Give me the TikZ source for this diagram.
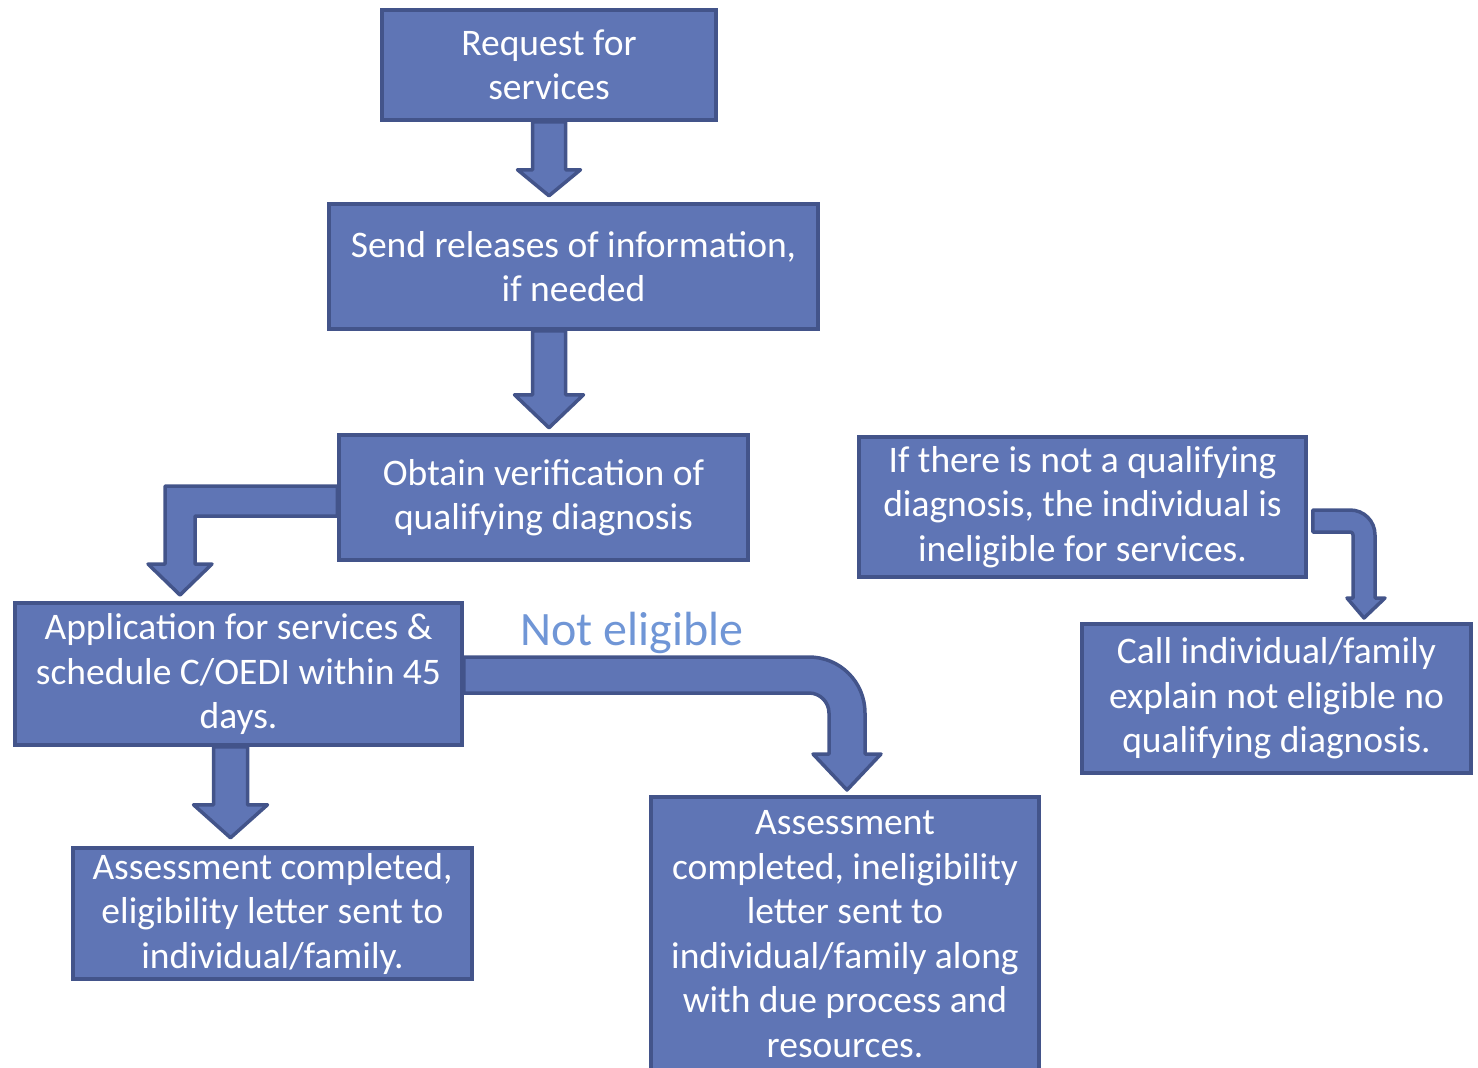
\documentclass[tikz,border=0pt]{standalone}
\usepackage{fontspec}
\setmainfont{Carlito}
\usetikzlibrary{calc}
\definecolor{boxfill}{RGB}{95,117,181}
\definecolor{boxline}{RGB}{67,84,138}
\definecolor{labelblue}{RGB}{112,150,214}

% straight block arrow pointing down: start, shaft length, head length, shaft half width, head half width
\newcommand{\blockdown}[5]{%
  \draw[blockarrow] ($(#1)+(-#4,0)$) -- ++(0,#2) -- ++({#4-#5},0) -- ++(#5,#3)
    -- ++(#5,-#3) -- ++({#4-#5},0) -- ++(0,-#2) -- cycle;}

\begin{document}
\begin{tikzpicture}[x=1pt, y=-1pt,
    stepbox/.style={draw=boxline, fill=boxfill, line width=3.5pt, text=white,
      align=center, inner sep=0pt, font=\fontsize{37.5}{44.5}\selectfont},
    blockarrow/.style={draw=boxline, fill=boxfill, line width=3.5pt, line join=round}]
  \useasboundingbox (0,0) rectangle (1478,1068);

  \node[stepbox, minimum width=334, minimum height=110] (req) at (549,65) {Request for\\services};
  \node[stepbox, minimum width=489, minimum height=125] (rel) at (573.5,266.5) {Send releases of information,\\if needed};
  \node[stepbox, minimum width=409, minimum height=125] (ver) at (543.5,497.5) {Obtain verification of\\qualifying diagnosis};
  \node[stepbox, minimum width=447, minimum height=140] (ifnot) at (1082.5,507) {If there is not a qualifying\\diagnosis, the individual is\\ineligible for services.};
  \node[stepbox, minimum width=447, minimum height=142] (app) at (238.5,674) {Application for services \&\\schedule C/OEDI within 45\\days.};
  \node[stepbox, minimum width=389, minimum height=149] (call) at (1276.5,698.5) {Call individual/family\\explain not eligible no\\qualifying diagnosis.};
  \node[stepbox, minimum width=399, minimum height=131] (elig) at (272.5,913.5) {Assessment completed,\\eligibility letter sent to\\individual/family.};
  \node[stepbox, minimum width=388, minimum height=274] (inel) at (845,934) {Assessment\\completed, ineligibility\\letter sent to\\individual/family along\\with due process and\\resources.};

  \node[text=labelblue, font=\fontsize{48}{56}\selectfont] (noteli) at (632,633) {Not eligible};

  % straight arrows
  \blockdown{req.south}{48}{26}{16.5}{31.5}
  \blockdown{req.south |- rel.south}{64}{33}{16.5}{34.5}
  \coordinate (appout) at ($(app.south)+(-8,0)$);
  \blockdown{appout}{58}{33}{17}{37}

  % bent arrows
  \draw[blockarrow] ($(ver.west)+(0,-11.5)$) -| (165,564) -- (148,564) -- (180,595)
    -- (212,564) -- (195,564) |- ($(ver.west)+(0,18.5)$) -- cycle;
  \draw[blockarrow] ($(app.east)+(0,-17)$) -- (809,657) .. controls (840,657) and (865,682) .. (865,713)
    -- (865,754) -- (881,754) -- (847,790) -- (813,754) -- (829,754) -- (829,713)
    .. controls (829,702) and (820,693) .. (809,693) -- ($(app.east)+(0,19)$) -- cycle;
  \draw[blockarrow] ($(ifnot.east)+(5,3)$) -- (1350,510) .. controls (1364,510) and (1375,521) .. (1375,535)
    -- (1375,598) -- (1385,598) -- (1364,618) -- (1347,598) -- (1353,598) -- (1353,535)
    .. controls (1353,533) and (1352,532) .. (1350,532) -- ($(ifnot.east)+(5,25)$) -- cycle;
\end{tikzpicture}
\end{document}
